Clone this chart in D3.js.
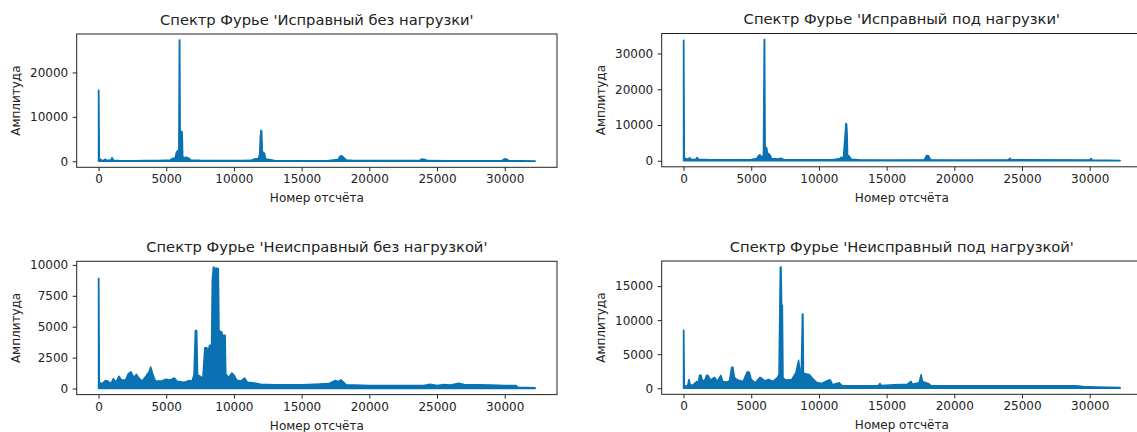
<!DOCTYPE html>
<html>
    <head>
        <meta charset="utf-8">
        <title>Спектр Фурье</title>
        <style>
            body { margin: 0; background: white; }
            text { font-family: 'DejaVu Sans', sans-serif; fill: #222; }
        </style>
        <script src="https://d3js.org/d3.v7.min.js"></script>
    </head>
    <body>
        <div id="board"></div>
        <script>
            // envelope of the spectra: [sample number, amplitude]
            var okIdle = [
                [0,16000],[20,16000],[60,600],[200,300],[400,250],[500,450],[600,200],[900,250],[1000,800],[1100,250],
                [1500,150],[2500,120],[3500,150],[4500,150],[5300,300],[5500,700],[5650,600],[5750,2000],[5850,2400],
                [5930,2500],[5970,27300],[6000,27300],[6030,6800],[6180,6600],[6220,1000],[6350,800],[6500,900],
                [6650,700],[6800,300],[7500,200],[9000,150],[10500,150],[11300,200],[11500,500],[11800,600],[11900,1500],
                [11950,5500],[12000,7000],[12050,6800],[12100,2200],[12250,1800],[12350,500],[12600,400],[13000,150],
                [15000,120],[17000,150],[17700,400],[17850,1200],[18000,1200],[18150,700],[18300,300],[18700,200],
                [20000,150],[23700,150],[23900,500],[24100,400],[24300,150],[26000,100],[29800,120],[29950,500],
                [30150,500],[30300,150],[32250,80]
            ];
            var okLoad = [
                [0,33700],[20,33700],[60,800],[300,400],[450,800],[600,350],[900,400],[1000,900],[1100,400],[2000,300],
                [3500,300],[5000,350],[5400,600],[5550,1500],[5650,1700],[5750,900],[5900,1500],[5960,33900],[5990,33900],
                [6030,4000],[6150,3500],[6200,2000],[6300,2000],[6400,1500],[6500,600],[7000,500],[7200,700],[7400,300],
                [9000,250],[11000,300],[11550,600],[11650,1000],[11800,500],[11950,8000],[11990,10400],[12040,10300],
                [12080,8000],[12120,1600],[12250,1200],[12400,400],[13000,250],[15000,200],[17800,300],[17950,1500],
                [18100,1400],[18250,300],[20000,200],[24000,250],[24100,700],[24200,250],[30000,200],[30100,600],
                [30200,200],[32250,100]
            ];
            var faultIdle = [
                [0,8900],[20,8900],[60,500],[300,400],[500,650],[700,600],[900,400],[1100,800],[1300,500],[1500,1000],
                [1700,700],[2000,700],[2200,1200],[2400,1350],[2600,900],[2800,1150],[2950,900],[3200,600],[3500,1000],
                [3750,1400],[3850,1750],[4000,1200],[4200,600],[4600,600],[5000,750],[5300,700],[5600,850],[5800,600],
                [6300,500],[6700,650],[6900,600],[7050,1100],[7150,4700],[7250,4700],[7320,1100],[7500,1000],[7700,800],
                [7850,3300],[8000,3300],[8100,3000],[8200,3500],[8350,3500],[8400,8700],[8480,9800],[8560,9800],
                [8620,9500],[8700,9750],[8850,9700],[8900,4700],[9000,4600],[9100,4600],[9150,4300],[9350,4300],
                [9400,1200],[9600,900],[9850,1250],[10000,1100],[10200,700],[10500,600],[10800,850],[11000,500],
                [11500,450],[12000,350],[13000,300],[15000,300],[16000,350],[17000,400],[17500,650],[17700,550],
                [17900,700],[18100,500],[18300,300],[20000,250],[22000,250],[24000,250],[24500,350],[25000,250],
                [25500,320],[26000,280],[26600,420],[27000,320],[28000,300],[29000,280],[30000,250],[30800,250],
                [31000,100],[32250,60]
            ];
            var faultLoad = [
                [0,8500],[20,8500],[60,400],[300,300],[400,1300],[500,400],[700,500],[1000,1000],[1100,900],[1180,1900],
                [1300,1900],[1400,1000],[1600,1300],[1700,1900],[1800,1900],[2000,1200],[2200,1500],[2300,1600],
                [2500,1000],[2750,1900],[2900,1000],[3200,900],[3400,1100],[3550,3100],[3650,3100],[3750,1600],
                [4000,1200],[4400,1000],[4700,2400],[4850,2400],[5000,1300],[5300,800],[5650,1600],[5750,1500],
                [6000,1100],[6300,1300],[6600,1000],[6900,1500],[7050,2000],[7150,17800],[7200,17800],[7250,12200],
                [7300,12200],[7350,1500],[7600,1200],[8000,1300],[8300,2300],[8500,4100],[8600,2600],[8700,2500],
                [8780,10900],[8820,10900],[8860,2200],[9100,2100],[9300,2000],[9500,1500],[9800,900],[10200,700],
                [10700,1200],[10850,1200],[11000,500],[11500,800],[11700,400],[13000,350],[14400,400],[14500,700],
                [14600,400],[15600,500],[16000,550],[16500,550],[16800,1000],[16900,600],[17400,800],[17550,2000],
                [17650,1000],[17900,800],[18100,700],[18300,350],[20000,350],[24000,350],[28000,350],[29000,350],
                [29500,250],[30500,200],[32250,100]
            ];

            var titles = ["Спектр Фурье 'Исправный без нагрузки'", "Спектр Фурье 'Исправный под нагрузки'",
                          "Спектр Фурье 'Неисправный без нагрузкой'", "Спектр Фурье 'Неисправный под нагрузкой'"];
            var xTicks = [0, 5000, 10000, 15000, 20000, 25000, 30000];
            var yTicks = [[0, 10000, 20000], [0, 10000, 20000, 30000],
                          [0, 2500, 5000, 7500, 10000], [0, 5000, 10000, 15000]];
            var lastSample = 32250;

            var color = "#0a72b2";
            var panels = [
                {data: okIdle, left: 76.7, top: 34},
                {data: okLoad, left: 661.7, top: 33.5},
                {data: faultIdle, left: 76.7, top: 261.3},
                {data: faultLoad, left: 661.7, top: 261}
            ];
            var pw = 480.3, ph = 133.3;

            var svg = d3.select("#board").append("svg")
                .attr("width", 1137)
                .attr("height", 432);

            function drawPanel(p, i) {
                var g = svg.append("g").attr("transform", "translate(" + p.left + "," + p.top + ")");
                var m = lastSample * 0.05;
                var x = d3.scaleLinear().domain([-m, lastSample + m]).range([0, pw]);
                var ymax = d3.max(p.data, d => d[1]);
                var y = d3.scaleLinear().domain([-ymax * 0.05, ymax * 1.05]).range([ph, 0]);

                var area = d3.area()
                    .x(d => x(d[0]))
                    .y0(y(0))
                    .y1(d => y(d[1]));
                g.append("path")
                    .datum(p.data)
                    .attr("d", area)
                    .attr("fill", color)
                    .attr("stroke", color)
                    .attr("stroke-width", 1.5)
                    .attr("stroke-linejoin", "round");

                g.append("rect")
                    .attr("width", pw).attr("height", ph)
                    .attr("fill", "none").attr("stroke", "#222").attr("stroke-width", 1);

                var xa = g.append("g").attr("transform", "translate(0," + ph + ")")
                    .call(d3.axisBottom(x).tickValues(xTicks).tickFormat(d3.format("d")).tickSizeOuter(0).tickSize(4).tickPadding(3.5));
                var ya = g.append("g")
                    .call(d3.axisLeft(y).tickValues(yTicks[i]).tickFormat(d3.format("d")).tickSizeOuter(0).tickSize(4).tickPadding(4.5));
                [xa, ya].forEach(a => {
                    a.select(".domain").remove();
                    a.selectAll("line").attr("stroke", "#222");
                    a.selectAll("text").style("font-size", "12px").attr("fill", "#222");
                });

                g.append("text")
                    .attr("x", pw / 2).attr("y", -9.5)
                    .attr("text-anchor", "middle")
                    .style("font-size", "14.7px")
                    .text(titles[i]);
                g.append("text")
                    .attr("x", pw / 2).attr("y", ph + 35)
                    .attr("text-anchor", "middle")
                    .style("font-size", "12px")
                    .text("Номер отсчёта");
                g.append("text")
                    .attr("transform", "translate(-57," + (ph / 2) + ") rotate(-90)")
                    .attr("text-anchor", "middle")
                    .style("font-size", "12px")
                    .text("Амплитуда");
            }

            panels.forEach(drawPanel);
        </script>
    </body>
</html>
